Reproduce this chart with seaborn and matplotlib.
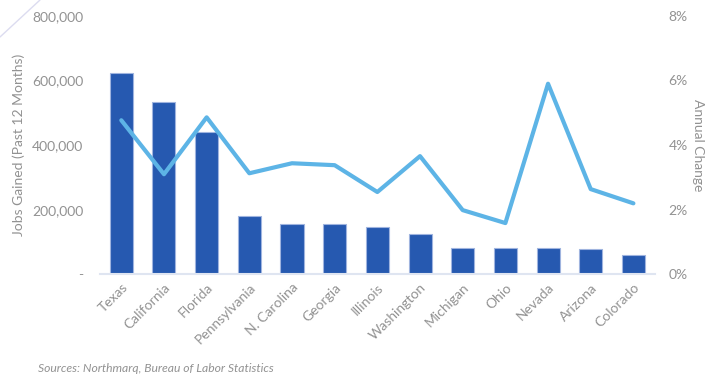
import matplotlib
matplotlib.use("Agg")
import matplotlib.pyplot as plt
from matplotlib.lines import Line2D
from matplotlib.ticker import FixedLocator, FuncFormatter
import seaborn as sns
import pandas as pd

states = ["Texas", "California", "Florida", "Pennsylvania", "N. Carolina", "Georgia",
          "Illinois", "Washington", "Michigan", "Ohio", "Nevada", "Arizona", "Colorado"]
jobs_gained = [622000, 532000, 440000, 181000, 157000, 155000,
               148000, 124000, 82000, 82000, 82000, 78000, 59000]
annual_change = [4.77, 3.10, 4.86, 3.13, 3.44, 3.38,
                 2.55, 3.66, 1.99, 1.59, 5.90, 2.64, 2.20]
left_ticks = [0, 200000, 400000, 600000, 800000]
right_ticks = [0, 2, 4, 6, 8]

df = pd.DataFrame({"state": states, "jobs": jobs_gained, "change": annual_change})

sns.set_theme(style="white")
plt.rcParams["font.family"] = ["Lato", "DejaVu Sans"]

TEXT = "#929292"
BAR = "#2659b0"
LINE = "#5db4e6"
FS = 10

fig = plt.figure(figsize=(7.14, 3.77), dpi=100)
ax = fig.add_axes([0.14, 0.272, 0.777, 0.686])

sns.barplot(data=df, x="state", y="jobs", color=BAR, saturation=1, width=0.54,
            edgecolor="#9fb4df", linewidth=0.8, ax=ax)
ax.set_ylim(0, 800000)
ax.set_xlim(-0.5, len(states) - 0.5)
ax.yaxis.set_major_locator(FixedLocator(left_ticks))
ax.yaxis.set_major_formatter(FuncFormatter(lambda v, p: "-" if v == 0 else f"{int(v):,}"))
ax.set_xlabel("")
ax.set_ylabel("Jobs Gained (Past 12 Months)", color=TEXT, fontsize=FS)
ax.yaxis.set_label_coords(-0.136, 0.5)
ax.tick_params(axis="y", colors=TEXT, labelsize=FS, length=0, pad=12)
ax.tick_params(axis="x", colors=TEXT, labelsize=FS, length=0, pad=5)
for lbl in ax.get_xticklabels():
    lbl.set_rotation(45)
    lbl.set_ha("right")
    lbl.set_rotation_mode("anchor")
for s in ["top", "right", "left"]:
    ax.spines[s].set_visible(False)
ax.spines["bottom"].set_color("#dfe5f1")
ax.spines["bottom"].set_linewidth(1.5)

ax2 = ax.twinx()
sns.lineplot(x=list(range(len(states))), y=df["change"], color=LINE, linewidth=3,
             ax=ax2)
ax2.set_ylim(0, 8)
ax2.yaxis.set_major_locator(FixedLocator(right_ticks))
ax2.yaxis.set_major_formatter(FuncFormatter(lambda v, p: f"{int(v)}%"))
ax2.tick_params(axis="y", colors=TEXT, labelsize=FS, length=0, pad=10)
ax2.set_ylabel("Annual Change", color=TEXT, fontsize=FS, rotation=270)
ax2.yaxis.set_label_coords(1.088, 0.5)
for s in ax2.spines.values():
    s.set_visible(False)

fig.add_artist(Line2D([0, 40 / 714], [1 - 37 / 377, 1], transform=fig.transFigure,
                      color="#dcdcf0", linewidth=1))

fig.text(38 / 714, 1 - 372 / 377, "Sources: Northmarq, Bureau of Labor Statistics",
         color=TEXT, fontsize=8.7, style="italic")

fig.savefig("out.png", dpi=100, facecolor="white")
